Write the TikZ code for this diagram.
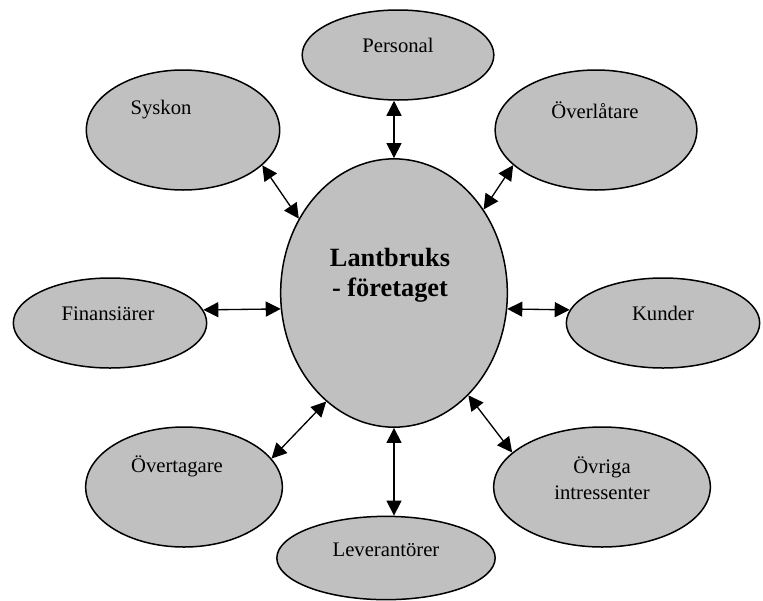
\documentclass[tikz,border=0pt]{standalone}
\usepackage{fontspec}
\setmainfont{Liberation Serif}
\usetikzlibrary{shapes.geometric, arrows.meta, calc}
\definecolor{blobgray}{RGB}{192,192,192}

\begin{document}
\begin{tikzpicture}[x=0.6pt, y=-0.6pt]
\tikzset{
  blob/.style={
    ellipse,
    draw=black, line width=0.9pt,
    fill=blobgray,
    inner sep=0pt},
  lbl/.style={font=\fontsize{12.4}{15.6}\selectfont, align=center},
  biglbl/.style={font=\fontsize{15.8}{18}\selectfont\bfseries, align=center},
  link/.style={{Triangle[length=9pt,width=9pt]}-{Triangle[length=9pt,width=9pt]}, line width=0.8pt},
}
\useasboundingbox (0,0) rectangle (763,600);

% ellipses
\node[blob, minimum width=136pt, minimum height=161pt] (main) at (394,293) {};
\node[blob, minimum width=115pt, minimum height=54pt] (personal) at (398,55) {};
\node[blob, minimum width=116pt, minimum height=72pt] (syskon) at (183,130) {};
\node[blob, minimum width=121pt, minimum height=72pt] (overlatare) at (596,130) {};
\node[blob, minimum width=116pt, minimum height=54pt] (finans) at (110,323) {};
\node[blob, minimum width=116pt, minimum height=54pt] (kunder) at (663,323) {};
\node[blob, minimum width=118pt, minimum height=72pt] (overtagare) at (184,487) {};
\node[blob, minimum width=130pt, minimum height=72pt] (ovriga) at (602,487) {};
\node[blob, minimum width=131pt, minimum height=50pt] (lever) at (386,558) {};

% texts
\node[biglbl] (main-t) at ($(main)+(-4,-18)$) {Lantbruks\\- företaget};
\node[lbl] (personal-t) at ($(personal)+(0,-10)$) {Personal};
\node[lbl] (syskon-t) at ($(syskon)+(-22,-20)$) {Syskon};
\node[lbl] (overlatare-t) at ($(overlatare)+(-1,-20)$) {Överlåtare};
\node[lbl] (finans-t) at ($(finans)+(-2,-9)$) {Finansiärer};
\node[lbl] (kunder-t) at ($(kunder)+(0,-10)$) {Kunder};
\node[lbl] (overtagare-t) at ($(overtagare)+(-7,-21)$) {Övertagare};
\node[lbl] (ovriga-t) at ($(ovriga)+(0,-9)$) {Övriga\\intressenter};
\node[lbl] (lever-t) at ($(lever)+(0,-8)$) {Leverantörer};

% arrows
\draw[link] (main.north) -- (main.north |- personal.south);
\draw[link] (main.142) -- (syskon.-24);
\draw[link] (main.43) -- (overlatare.203);
\draw[link] (main.188) -- (finans.8);
\draw[link] (main.-8) -- (kunder.172);
\draw[link] (main.-122) -- (overtagare.18);
\draw[link] (main.-54) -- (ovriga.159);
\draw[link] (main.south) -- (main.south |- lever.north);

\end{tikzpicture}
\end{document}
